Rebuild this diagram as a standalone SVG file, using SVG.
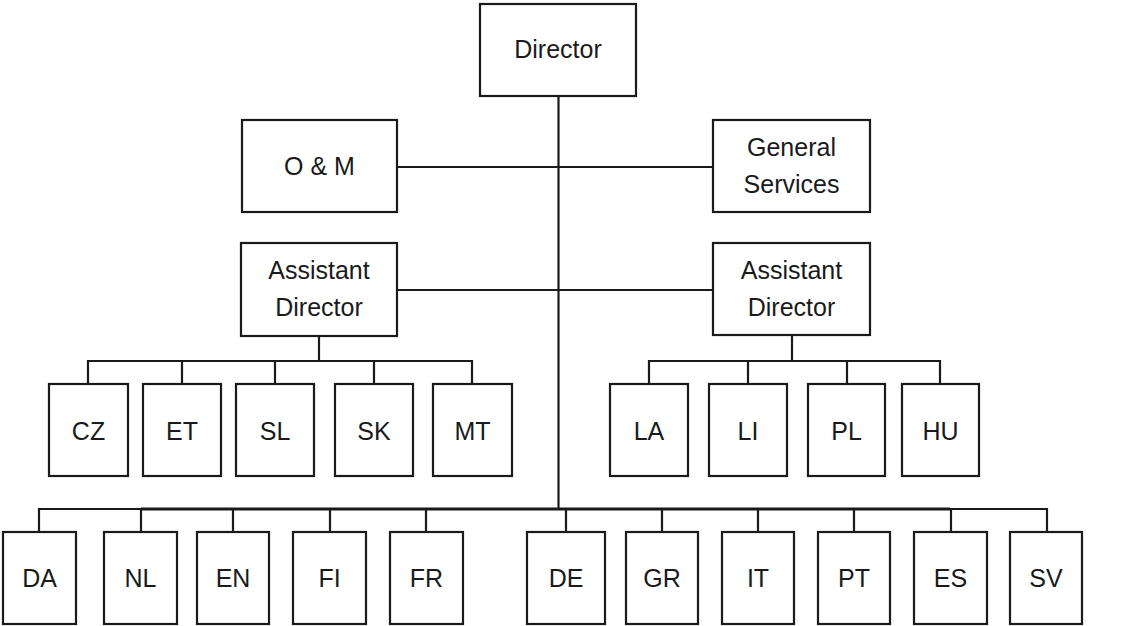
<svg xmlns="http://www.w3.org/2000/svg" width="1124" height="626" viewBox="0 0 1124 626">
<style>
rect.n{fill:#fff;stroke:#1a1a1a;stroke-width:2.2}
text{font-family:"Liberation Sans",Arial,sans-serif;font-size:25px;fill:#1a1a1a;text-anchor:middle}
.c{stroke:#1a1a1a;stroke-width:2.2;fill:none}
</style>
<rect width="1124" height="626" fill="#fff"/>
<g id="connectors">
<path class="c" d="M558.5,96V509"/>
<path class="c" d="M397,167H713"/>
<path class="c" d="M397,290H713"/>
<path class="c" d="M319,336V361M88,384V361H472V384M182,361V384M275,361V384M374,361V384"/>
<path class="c" d="M792,335V361M649,384V361H940V384M748,361V384M847,361V384"/>
<path class="c" d="M39,532V509H1047V532M141,509V532M233,509V532M330,509V532M426,509V532M566,509V532M662,509V532M758,509V532M854,509V532M951,509V532" />
<path class="c" d="M141,509H950" style="stroke-width:3"/>
</g>
<g id="director"><rect class="n" x="480" y="4" width="156" height="92"/><text x="558" y="58">Director</text></g>
<g id="om"><rect class="n" x="242" y="120" width="155" height="92"/><text x="319.5" y="175">O &amp; M</text></g>
<g id="general-services"><rect class="n" x="713" y="120" width="157" height="92"/><text x="791.5" y="156">General</text><text x="791.5" y="193">Services</text></g>
<g id="assistant-director-1"><rect class="n" x="241" y="243" width="156" height="93"/><text x="319" y="279">Assistant</text><text x="319" y="316">Director</text></g>
<g id="assistant-director-2"><rect class="n" x="713" y="243" width="157" height="92"/><text x="791.5" y="279">Assistant</text><text x="791.5" y="316">Director</text></g>
<g id="cz"><rect class="n" x="49" y="384" width="79" height="92"/><text x="88.5" y="440">CZ</text></g>
<g id="et"><rect class="n" x="143" y="384" width="78" height="92"/><text x="182" y="440">ET</text></g>
<g id="sl"><rect class="n" x="236" y="384" width="78" height="92"/><text x="275" y="440">SL</text></g>
<g id="sk"><rect class="n" x="335" y="384" width="78" height="92"/><text x="374" y="440">SK</text></g>
<g id="mt"><rect class="n" x="433" y="384" width="79" height="92"/><text x="472.5" y="440">MT</text></g>
<g id="la"><rect class="n" x="610" y="384" width="78" height="92"/><text x="649" y="440">LA</text></g>
<g id="li"><rect class="n" x="709" y="384" width="78" height="92"/><text x="748" y="440">LI</text></g>
<g id="pl"><rect class="n" x="808" y="384" width="77" height="92"/><text x="846.5" y="440">PL</text></g>
<g id="hu"><rect class="n" x="902" y="384" width="77" height="92"/><text x="940.5" y="440">HU</text></g>
<g id="da"><rect class="n" x="3" y="532" width="73" height="92"/><text x="39.5" y="587">DA</text></g>
<g id="nl"><rect class="n" x="104" y="532" width="73" height="92"/><text x="140.5" y="587">NL</text></g>
<g id="en"><rect class="n" x="197" y="532" width="72" height="92"/><text x="233" y="587">EN</text></g>
<g id="fi"><rect class="n" x="293" y="532" width="73" height="92"/><text x="329.5" y="587">FI</text></g>
<g id="fr"><rect class="n" x="390" y="532" width="73" height="92"/><text x="426.5" y="587">FR</text></g>
<g id="de"><rect class="n" x="527" y="532" width="78" height="92"/><text x="566" y="587">DE</text></g>
<g id="gr"><rect class="n" x="626" y="532" width="72" height="92"/><text x="662" y="587">GR</text></g>
<g id="it"><rect class="n" x="722" y="532" width="72" height="92"/><text x="758" y="587">IT</text></g>
<g id="pt"><rect class="n" x="818" y="532" width="72" height="92"/><text x="854" y="587">PT</text></g>
<g id="es"><rect class="n" x="914" y="532" width="73" height="92"/><text x="950.5" y="587">ES</text></g>
<g id="sv"><rect class="n" x="1010" y="532" width="72" height="92"/><text x="1046" y="587">SV</text></g>
</svg>
